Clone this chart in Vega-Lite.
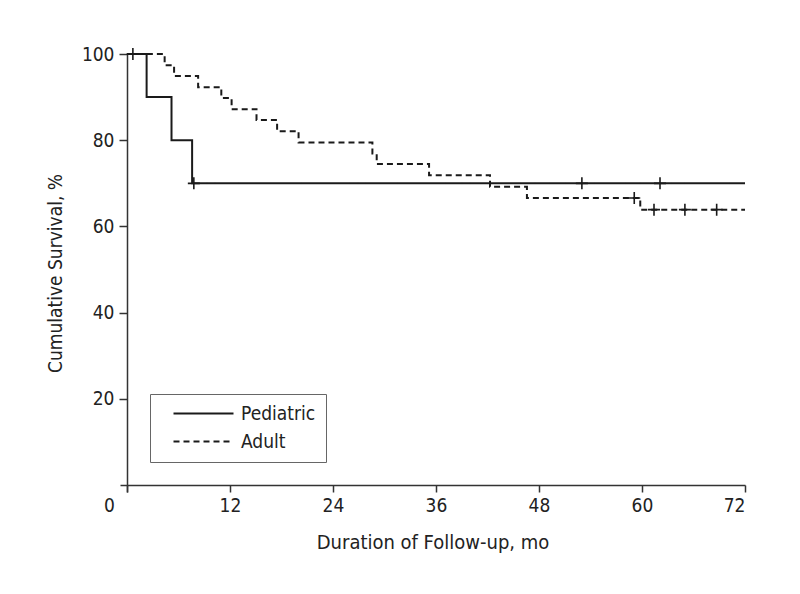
{
  "$schema": "https://vega.github.io/schema/vega-lite/v6.json",
  "width": 625,
  "height": 438,
  "autosize": "none",
  "padding": {"left": 120, "top": 54, "right": 55, "bottom": 102},
  "background": "white",
  "config": {
    "view": {"stroke": null},
    "font": "Liberation Sans Narrow, DejaVu Sans Condensed, sans-serif",
    "axis": {"grid": false, "labelFont": "Liberation Sans Narrow, DejaVu Sans Condensed, sans-serif", "titleFont": "Liberation Sans Narrow, DejaVu Sans Condensed, sans-serif", "labelColor": "#222", "titleColor": "#222", "titleFontWeight": "normal", "domainColor": "#333", "tickColor": "#333", "domainWidth": 1.5, "tickWidth": 1.5, "labelFontSize": 19, "titleFontSize": 19}
  },
  "datasets": {
    "curves": [
      {"group": "Pediatric", "time": 0, "surv": 100},
      {"group": "Pediatric", "time": 2.3, "surv": 90},
      {"group": "Pediatric", "time": 5.2, "surv": 80},
      {"group": "Pediatric", "time": 7.6, "surv": 70},
      {"group": "Pediatric", "time": 72, "surv": 70},
      {"group": "Adult", "time": 0, "surv": 100},
      {"group": "Adult", "time": 4.4, "surv": 97.4},
      {"group": "Adult", "time": 5.5, "surv": 94.9},
      {"group": "Adult", "time": 8.3, "surv": 92.3},
      {"group": "Adult", "time": 11.0, "surv": 89.8},
      {"group": "Adult", "time": 12.2, "surv": 87.2},
      {"group": "Adult", "time": 15.1, "surv": 84.7},
      {"group": "Adult", "time": 17.5, "surv": 82.1},
      {"group": "Adult", "time": 20.0, "surv": 79.5},
      {"group": "Adult", "time": 28.6, "surv": 76.9},
      {"group": "Adult", "time": 29.1, "surv": 74.5},
      {"group": "Adult", "time": 35.2, "surv": 71.9},
      {"group": "Adult", "time": 42.3, "surv": 69.2},
      {"group": "Adult", "time": 46.6, "surv": 66.6},
      {"group": "Adult", "time": 59.8, "surv": 63.9},
      {"group": "Adult", "time": 72, "surv": 63.9}
    ],
    "censors": [
      {"group": "Pediatric", "time": 0.7, "surv": 100},
      {"group": "Pediatric", "time": 7.8, "surv": 70},
      {"group": "Pediatric", "time": 53.0, "surv": 70},
      {"group": "Pediatric", "time": 62.1, "surv": 70},
      {"group": "Adult", "time": 59.1, "surv": 66.6},
      {"group": "Adult", "time": 61.4, "surv": 63.9},
      {"group": "Adult", "time": 65.0, "surv": 63.9},
      {"group": "Adult", "time": 68.7, "surv": 63.9}
    ]
  },
  "layer": [
    {
      "data": {"name": "curves"},
      "mark": {"type": "line", "interpolate": "step-after", "color": "#1a1a1a", "strokeWidth": 2},
      "encoding": {
        "x": {
          "field": "time", "type": "quantitative",
          "scale": {"domain": [-0.8, 72], "nice": false, "zero": false},
          "axis": {
            "title": "Duration of Follow-up, mo",
            "titleFontSize": 20,
            "values": [0, 12, 24, 36, 48, 60, 72],
            "offset": -7, "tickSize": 7, "labelPadding": 4, "titlePadding": 17,
            "labelOffset": {"condition": {"test": "datum.value === 0", "value": -18}, "value": 0}
          }
        },
        "y": {
          "field": "surv", "type": "quantitative",
          "scale": {"domain": [-1.6, 100], "nice": false, "zero": false},
          "axis": {
            "title": "Cumulative Survival, %",
            "values": [20, 40, 60, 80, 100],
            "offset": -7, "tickSize": 8, "labelPadding": 5, "titlePadding": 16
          }
        },
        "strokeDash": {
          "field": "group", "type": "nominal",
          "scale": {"domain": ["Pediatric", "Adult"], "range": [[1, 0], [6, 4]]},
          "legend": {
            "title": null, "orient": "none", "legendX": 30, "legendY": 340,
            "strokeColor": "#666", "fillColor": "white", "padding": 10,
            "symbolType": "M -5 0 L 5 0", "symbolSize": 144, "symbolStrokeWidth": 2,
            "symbolStrokeColor": "#1a1a1a", "symbolOffset": 34, "labelOffset": 28,
            "labelFontSize": 19, "labelColor": "#222",
            "labelFont": "Liberation Sans Narrow, DejaVu Sans Condensed, sans-serif",
            "rowPadding": 8
          }
        }
      }
    },
    {
      "data": {"name": "censors"},
      "mark": {"type": "point", "shape": "M -1 0 L 1 0 M 0 -1 L 0 1", "filled": false, "size": 144, "strokeWidth": 1.6, "color": "#1a1a1a", "opacity": 1},
      "encoding": {
        "x": {"field": "time", "type": "quantitative"},
        "y": {"field": "surv", "type": "quantitative"}
      }
    }
  ]
}
